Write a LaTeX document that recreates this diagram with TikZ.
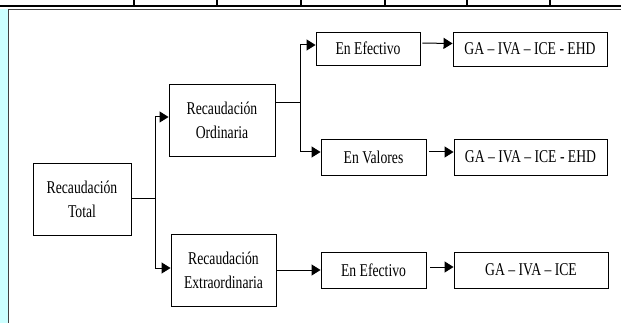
\documentclass[tikz,border=0pt]{standalone}
\usepackage{fontspec}
\setmainfont{Liberation Serif}[FakeStretch=0.76]
\usetikzlibrary{arrows.meta}

\definecolor{marcoCian}{HTML}{CCFFFF}

\tikzset{
    caja/.style={shape=rectangle, draw, line width=0.9pt, align=center,
        inner sep=0pt, font=\fontsize{18}{24}\selectfont},
    flecha/.style={-{Triangle[length=9pt,width=11pt]}, line width=1pt},
    linea/.style={line width=1pt}
}

\begin{document}
\begin{tikzpicture}[x=1pt, y=-1pt]
            \useasboundingbox (0,0) rectangle (621,323);
            % marco de la tabla
            \fill[marcoCian] (0,9) rectangle (8,323);
            \draw[line width=2.3pt] (0,6.1) -- (621,6.1);
            \foreach \xc in {134,217,301,385,467,550}
                \draw[line width=2pt] (\xc,0) -- (\xc,5);
            \draw[black!75, line width=1pt] (8.5,323) -- (8.5,9.5) -- (621,9.5);

            \begin{scope}
                \node[caja, minimum width=98pt, minimum height=72pt] (RecTotal) at (82,199) {Recaudación\\Total};
                \node[caja, minimum width=106pt, minimum height=72pt] (RecOrdinaria) at (222,120) {Recaudación\\Ordinaria};
                \node[caja, minimum width=105pt, minimum height=72pt] (RecExtra) at (223.5,270) {Recaudación\\Extraordinaria};
                \node[caja, minimum width=104pt, minimum height=33pt] (EfectivoOrd) at (368,48.5) {En Efectivo};
                \node[caja, minimum width=154pt, minimum height=34pt] (ImpEfectivoOrd) at (530,49) {GA -- IVA -- ICE - EHD};
                \node[caja, minimum width=105pt, minimum height=36pt] (Valores) at (373.5,157) {En Valores};
                \node[caja, minimum width=153pt, minimum height=36pt] (ImpValores) at (530.5,157) {GA -- IVA -- ICE - EHD};
                \node[caja, minimum width=105pt, minimum height=36pt] (EfectivoExtra) at (373.5,270) {En Efectivo};
                \node[caja, minimum width=154pt, minimum height=36pt] (ImpEfectivoExtra) at (531,270) {GA -- IVA -- ICE};
            \end{scope}
            \coordinate (TroncoTotal) at (155,199);
            \coordinate (TroncoOrd) at (300,103);
            \draw[linea] (RecTotal.east) -- (TroncoTotal);
            \draw[flecha] (TroncoTotal) |- ([yshift=3pt]RecOrdinaria.west);
            \draw[flecha] (TroncoTotal) |- ([yshift=2pt]RecExtra.west);
            \draw[linea] ([yshift=17pt]RecOrdinaria.east) -- (TroncoOrd);
            \draw[flecha] (TroncoOrd) |- ([yshift=3.5pt]EfectivoOrd.west);
            \draw[flecha] (TroncoOrd) |- ([yshift=5pt]Valores.west);
            \draw[flecha] (RecExtra.east) -- (EfectivoExtra.west);
            \draw[flecha, shorten <=2pt] ([yshift=5.5pt]EfectivoOrd.east) -- ([yshift=5.5pt]ImpEfectivoOrd.west);
            \draw[flecha, shorten <=3pt] ([yshift=5pt]Valores.east) -- ([yshift=5pt]ImpValores.west);
            \draw[flecha, shorten <=4pt] ([yshift=3pt]EfectivoExtra.east) -- ([yshift=3pt]ImpEfectivoExtra.west);
        \end{tikzpicture}
\end{document}
